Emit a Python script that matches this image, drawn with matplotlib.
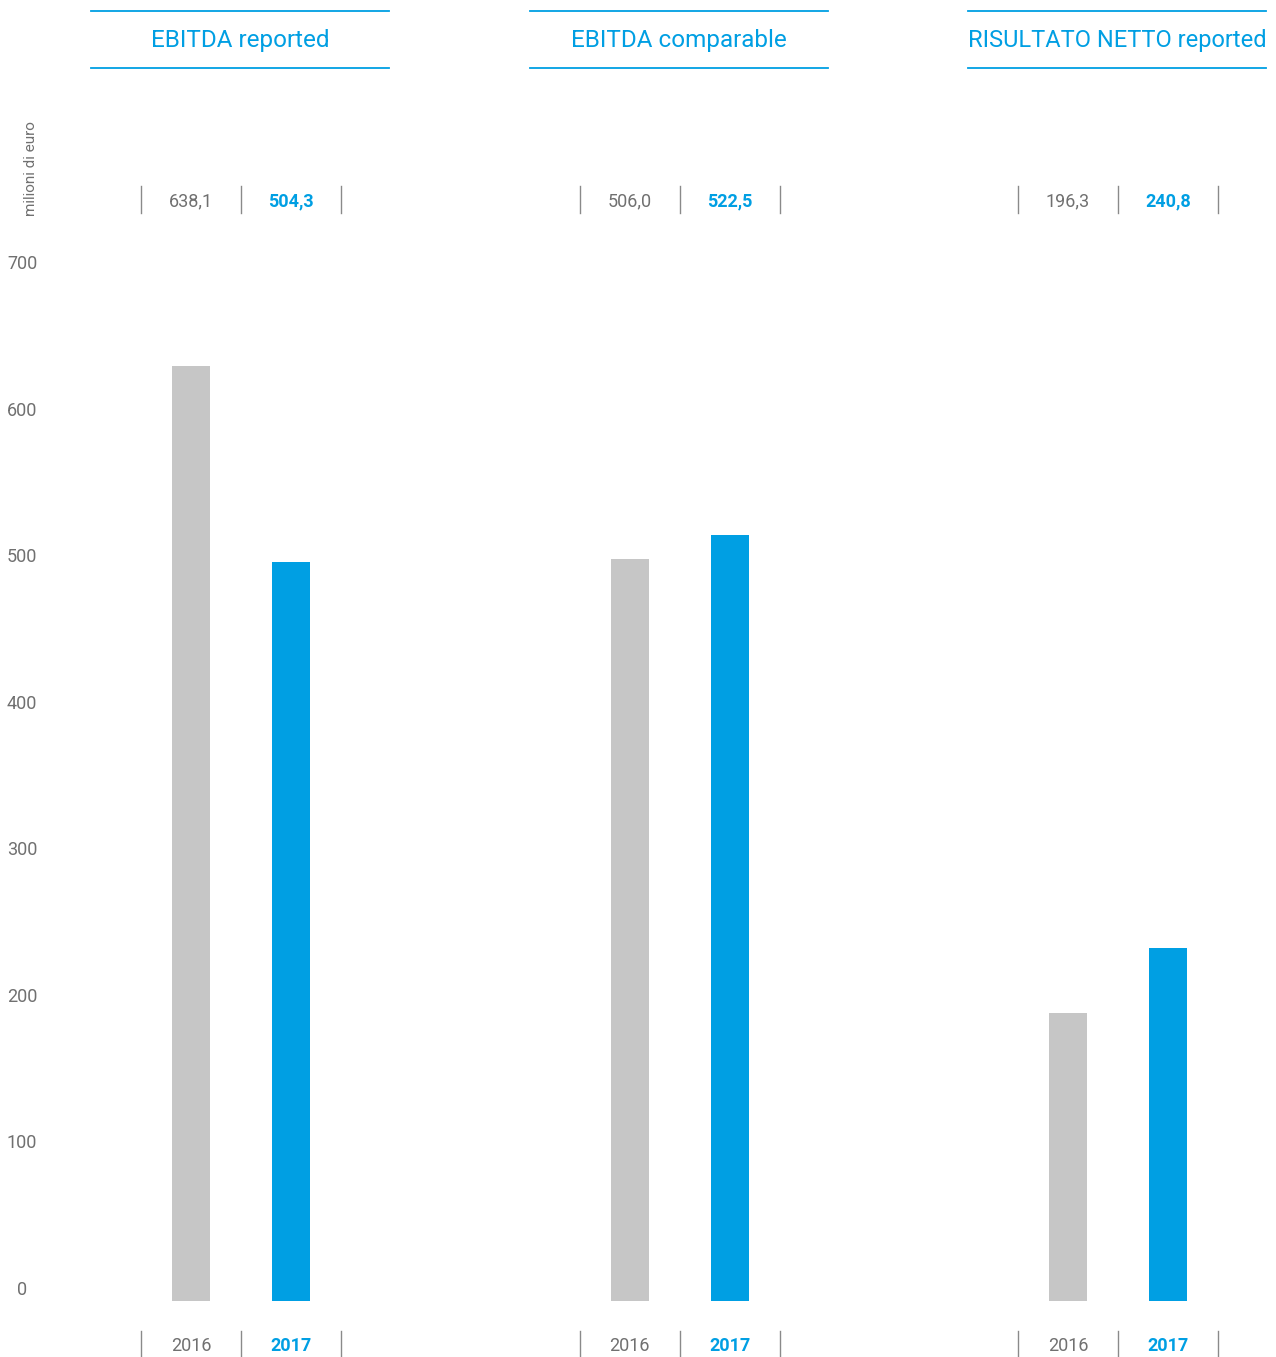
import matplotlib
matplotlib.use("Agg")
import matplotlib.pyplot as plt
from matplotlib.transforms import blended_transform_factory, ScaledTranslation

titles = ["EBITDA reported", "EBITDA comparable", "RISULTATO NETTO reported"]
years = ["2016", "2017"]
values_2016 = [638.1, 506.0, 196.3]
values_2017 = [504.3, 522.5, 240.8]
value_labels_2016 = ["638,1", "506,0", "196,3"]
value_labels_2017 = ["504,3", "522,5", "240,8"]
yticks = [0, 100, 200, 300, 400, 500, 600, 700]
ylabel = "milioni di euro"
title_sizes = [17.5, 17.5, 17]

BLUE = "#009FE3"
GREY_BAR = "#C6C6C6"
GREY_TXT = "#707070"
SEP = "#8a8a8a"

plt.rcParams["font.family"] = ["Roboto", "DejaVu Sans"]

W, H = 1276, 1357
fig = plt.figure(figsize=(W / 100, H / 100), dpi=100)

def fy(px):
    return 1 - px / H

lefts = [91, 529.5, 968]
base_px = 1301
top_px = 275
axes = []
for i, lx in enumerate(lefts):
    ax = fig.add_axes([lx / W, (H - base_px) / H, 300 / W, (base_px - top_px) / H])
    ax.set_xlim(-1, 2)
    ax.set_ylim(0, 700)
    ax.axis("off")
    ax.bar([0, 1], [values_2016[i], values_2017[i]], width=0.38,
           color=[GREY_BAR, BLUE], clip_on=False)
    tr = blended_transform_factory(ax.transData, fig.transFigure)
    # header
    for ypx in (11, 68):
        ax.plot([-1.0, 1.98], [fy(ypx), fy(ypx)], color=BLUE, lw=1.3,
                transform=tr, clip_on=False)
    ax.text(0.49, fy(40), titles[i], transform=tr, ha="center", va="center",
            color=BLUE, fontsize=title_sizes[i])
    # separators for values and years
    for x in (-0.5, 0.5, 1.5):
        ax.plot([x, x], [fy(186), fy(213)], color=SEP, lw=1.0,
                transform=tr, clip_on=False)
        ax.plot([x, x], [fy(1331), fy(1357)], color=SEP, lw=1.0,
                transform=tr, clip_on=False)
    ax.text(0, fy(201), value_labels_2016[i], transform=tr, ha="center",
            va="center", color=GREY_TXT, fontsize=13)
    ax.text(1, fy(201), value_labels_2017[i], transform=tr, ha="center",
            va="center", color=BLUE, fontsize=13, fontweight="bold")
    ax.text(0, fy(1346), years[0], transform=tr, ha="center", va="center",
            color=GREY_TXT, fontsize=13)
    ax.text(1, fy(1346), years[1], transform=tr, ha="center", va="center",
            color=BLUE, fontsize=13, fontweight="bold")
    axes.append(ax)

ax1 = axes[0]
trl = blended_transform_factory(fig.transFigure, ax1.transData) + \
    ScaledTranslation(0, 11 / 100, fig.dpi_scale_trans)
for t in yticks:
    ax1.text(22 / W, t, str(t), transform=trl, ha="center", va="center",
             color=GREY_TXT, fontsize=13, clip_on=False)

fig.text(31 / W, fy(169), ylabel, rotation=90, ha="center", va="center",
         color=GREY_TXT, fontsize=11)

fig.savefig("out.png", dpi=100, facecolor="white")
